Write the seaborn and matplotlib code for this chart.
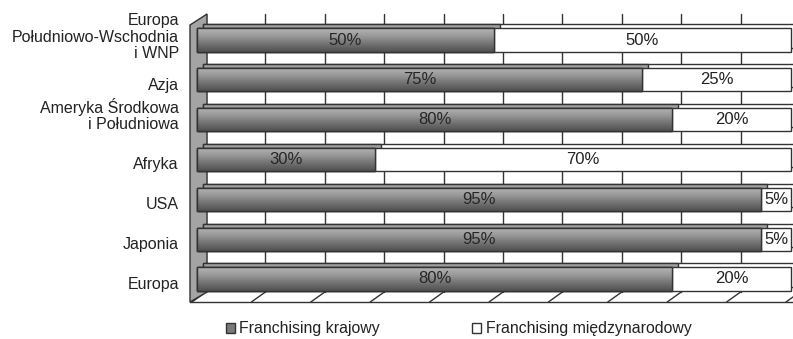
import numpy as np
import pandas as pd
import matplotlib
matplotlib.use("Agg")
import matplotlib.pyplot as plt
import matplotlib.transforms as mtransforms
from matplotlib.patches import Rectangle, Polygon, Patch
from matplotlib.colors import LinearSegmentedColormap
import seaborn as sns

# ---- data ----
categories = ["Europa\nPołudniowo-Wschodnia\ni WNP", "Azja", "Ameryka Środkowa\ni Południowa",
              "Afryka", "USA", "Japonia", "Europa"]
krajowy = [50, 75, 80, 30, 95, 95, 80]
miedzynarodowy = [50, 25, 20, 70, 5, 5, 20]
series_names = ["Franchising krajowy", "Franchising międzynarodowy"]

sns.set_style("white")
plt.rcParams["font.family"] = ["Liberation Sans", "DejaVu Sans"]
TXT = "#222222"
EDGE = "#333333"

df = pd.DataFrame({"cat": categories, "kraj": krajowy, "miedzy": miedzynarodowy})
df["total"] = df["kraj"] + df["miedzy"]

W, H, DPI = 793, 339, 100
fig = plt.figure(figsize=(W / DPI, H / DPI), dpi=DPI)
ax = fig.add_axes([190 / W, 1 - 302 / H, (W - 190) / W, (302 - 14) / H])

def px(dx, dy):
    return mtransforms.ScaledTranslation(dx / DPI, dy / DPI, fig.dpi_scale_trans)

# white (total) bars then grey (domestic) bars
sns.barplot(data=df, y="cat", x="total", orient="h", color="white", edgecolor=EDGE,
            linewidth=1, width=0.58, ax=ax, zorder=3, saturation=1)
n_white = len(ax.patches)
sns.barplot(data=df, y="cat", x="kraj", orient="h", color="#7a7a7a", edgecolor=EDGE,
            linewidth=1, width=0.58, ax=ax, zorder=4, saturation=1)

patches = list(ax.patches)
white_p = patches[:n_white]
grey_p = patches[n_white:]

cmap = LinearSegmentedColormap.from_list("g", ["#b4b4b4", "#999999", "#727272", "#505050"])
grad = np.linspace(0, 1, 64).reshape(-1, 1)

# 3D top faces (shifted copies behind)
for p, fc in [(q, "white") for q in white_p] + [(q, "#a0a0a0") for q in grey_p]:
    r = Rectangle((p.get_x(), p.get_y()), p.get_width(), p.get_height(),
                  facecolor=fc, edgecolor=EDGE, linewidth=1,
                  transform=ax.transData + px(6, 4), zorder=2.5 if fc == "white" else 2.6)
    ax.add_patch(r)

for p in grey_p:
    x0, y0, w, h = p.get_x(), p.get_y(), p.get_width(), p.get_height()
    im = ax.imshow(grad, cmap=cmap, extent=(x0, x0 + w, y0 + h, y0), origin="upper",
                   aspect="auto", zorder=4.1, interpolation="bilinear")
    im.set_clip_path(p)
    ax.add_patch(Rectangle((x0, y0), w, h, facecolor="none", edgecolor=EDGE, lw=1, zorder=4.2))

# limits (front floor / back wall geometry)
ax.set_xlim(-1.18, 100.34)
ax.set_ylim(6.578, -0.653)

# back wall gridlines
blend = mtransforms.blended_transform_factory(ax.transData, ax.transAxes)
floor_back = 10 / 288
for v in range(0, 100, 10):
    ax.plot([v, v], [floor_back, 1], color=EDGE, lw=1, transform=blend + px(9, 0),
            zorder=1, clip_on=False)
# floor diagonals
for v in range(0, 101, 10):
    ax.plot([v, v + 14 / 5.94], [0, floor_back], color=EDGE, lw=1, transform=blend + px(-5, 0),
            zorder=1, clip_on=False)

# left wall
wall = Polygon([(0, 277 / 288), (17 / 603, 1), (17 / 603, floor_back), (0, 0)],
               closed=True, facecolor="#a4a4a4", edgecolor=EDGE, lw=1,
               transform=ax.transAxes, zorder=1.5, clip_on=False)
ax.add_patch(wall)

# percent labels
for i, (k, m) in enumerate(zip(krajowy, miedzynarodowy)):
    ax.text(k / 2, i, f"{k}%", ha="center", va="center", fontsize=12, color="#262626", zorder=6)
    ax.text(k + m / 2, i, f"{m}%", ha="center", va="center", fontsize=12, color=TXT, zorder=6)

# axes styling
for s in ["top", "right", "left"]:
    ax.spines[s].set_visible(False)
ax.spines["bottom"].set_color(EDGE)
ax.spines["bottom"].set_linewidth(1)
ax.set_xticks(range(0, 101, 10))
ax.set_xticklabels([])
ax.tick_params(axis="x", direction="out", length=4, color=EDGE, width=1)
ax.set_xlabel("")
ax.set_ylabel("")
ax.set_yticks(range(len(categories)))
ax.set_yticklabels(categories, fontsize=11.5, color=TXT, linespacing=1.12)
ax.tick_params(axis="y", which="major", length=0, pad=8)
for lab, name in zip(ax.get_yticklabels(), categories):
    nl = name.count("\n")
    shift = -4 if nl == 0 else (7 if nl == 1 else 5)
    lab.set_transform(lab.get_transform() + px(0, shift))
ax.set_yticks(np.arange(len(categories) + 1) * 0.98 - 0.377, minor=True)
ax.tick_params(axis="y", which="minor", length=6, color=EDGE, width=1, direction="out")
ax.grid(False)

# legend
handles = [Patch(facecolor="#7a7a7a", edgecolor=EDGE, lw=1),
           Patch(facecolor="white", edgecolor=EDGE, lw=1)]
fig.legend(handles, series_names, loc="center left", bbox_to_anchor=(226 / W, 1 - 329 / H),
           ncol=2, frameon=False, fontsize=11.4, handlelength=0.55, handleheight=0.55,
           handletextpad=0.3, columnspacing=5.8, labelcolor=TXT, borderpad=0,
           borderaxespad=0)

fig.savefig("out.png", dpi=DPI)
